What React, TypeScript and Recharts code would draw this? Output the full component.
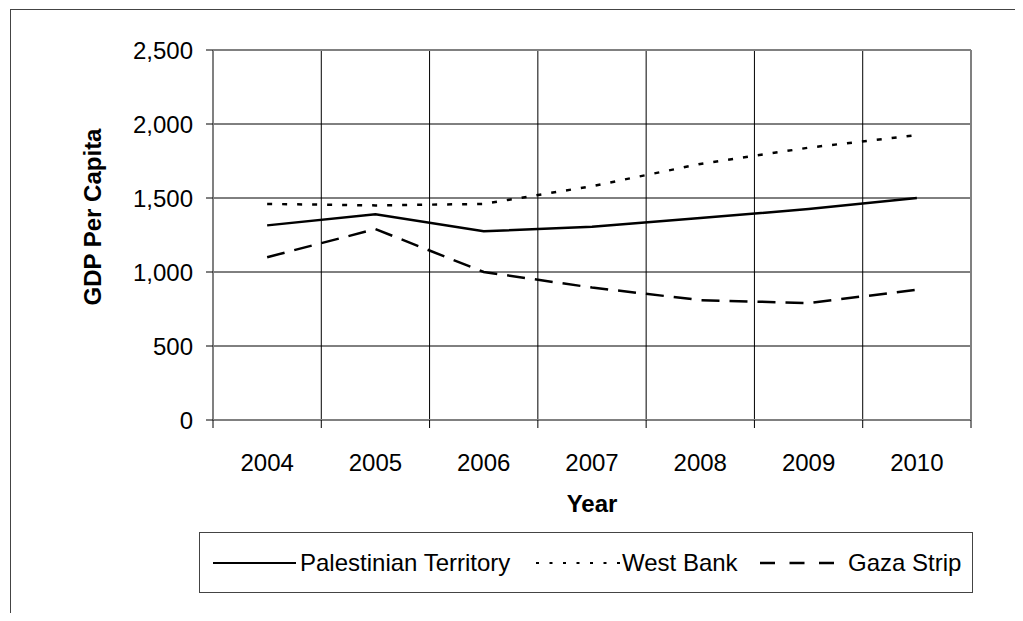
import React from "react";
import {
  LineChart,
  Line,
  XAxis,
  YAxis,
  CartesianGrid,
  Legend,
  Label,
  ReferenceLine,
} from "recharts";

const years = [2004, 2005, 2006, 2007, 2008, 2009, 2010];
const palestinian = [1315, 1390, 1275, 1305, 1365, 1425, 1500];
const westBank = [1460, 1450, 1460, 1580, 1730, 1840, 1925];
const gaza = [1100, 1290, 1000, 895, 810, 790, 880];
const yTicks = [0, 500, 1000, 1500, 2000, 2500];
const bandEdges = [2003.5, 2004.5, 2005.5, 2006.5, 2007.5, 2008.5, 2009.5, 2010.5];

const data = years.map((year, i) => ({
  year,
  palestinian: palestinian[i],
  westBank: westBank[i],
  gaza: gaza[i],
}));

const FONT = "'Liberation Sans', Arial, sans-serif";
const AXIS_GRAY = "#808080";
const X_DOMAIN: [number, number] = [bandEdges[0], bandEdges[bandEdges.length - 1]];

const legendItems = [
  { label: "Palestinian Territory", left: 13, len: 83, gap: 4, dash: undefined, sw: 2 },
  { label: "West Bank", left: 336, len: 84, gap: 2, dash: "3 10.5", sw: 2 },
  { label: "Gaza Strip", left: 560, len: 74, gap: 14, dash: "15 14.5", sw: 2.5 },
];

const LegendBox = () => (
  <div
    style={{
      position: "relative",
      boxSizing: "border-box",
      width: 774,
      height: 61,
      border: "1px solid #444",
      fontFamily: FONT,
      fontSize: 24,
      color: "#000",
    }}
  >
    {legendItems.map((it) => (
      <div
        key={it.label}
        style={{
          position: "absolute",
          left: it.left,
          top: 0,
          height: 59,
          display: "flex",
          alignItems: "center",
          whiteSpace: "nowrap",
        }}
      >
        <svg width={it.len} height={10} style={{ marginRight: it.gap }}>
          <line
            x1={0}
            y1={5}
            x2={it.len}
            y2={5}
            stroke="#000"
            strokeWidth={it.sw}
            strokeDasharray={it.dash}
          />
        </svg>
        <span>{it.label}</span>
      </div>
    ))}
  </div>
);

const YTitle = (props: any) => {
  const { viewBox } = props;
  const cx = viewBox.x + 93;
  const cy = viewBox.y + 167;
  return (
    <text
      x={cx}
      y={cy}
      transform={`rotate(-90 ${cx} ${cy})`}
      textAnchor="middle"
      fontFamily={FONT}
      fontSize={24}
      fontWeight="bold"
      fill="#000"
    >
      GDP Per Capita
    </text>
  );
};

const XTitle = (props: any) => {
  const { viewBox } = props;
  return (
    <text
      x={viewBox.x + viewBox.width / 2}
      y={viewBox.y + 91}
      textAnchor="middle"
      fontFamily={FONT}
      fontSize={24}
      fontWeight="bold"
      fill="#000"
    >
      Year
    </text>
  );
};

// vertical grid lines sit on the category edges, like the Excel original
const edgeLines = ({ xAxis, offset }: any) => {
  if (xAxis && typeof xAxis.scale === "function") {
    return bandEdges.map((v) => xAxis.scale(v));
  }
  const span = X_DOMAIN[1] - X_DOMAIN[0];
  return bandEdges.map((v) => offset.left + ((v - X_DOMAIN[0]) / span) * offset.width);
};

export default function App() {
  return (
    <div style={{ position: "relative", width: 1015, height: 605, overflow: "hidden" }}>
      <div
        style={{
          position: "absolute",
          left: 2,
          top: 1,
          width: 1100,
          height: 700,
          borderTop: "1px solid #444",
          borderLeft: "1px solid #444",
        }}
      />
      <LineChart
        width={1015}
        height={605}
        data={data}
        margin={{ top: 42, right: 52, left: 0, bottom: 20 }}
        style={{ fontFamily: FONT }}
      >
        {/* default axis (id 0): only the edge tick marks and the axis line */}
        <XAxis
          dataKey="year"
          type="number"
          domain={X_DOMAIN}
          ticks={bandEdges}
          interval={0}
          tick={{ fill: "none", fontSize: 1 }}
          tickFormatter={() => ""}
          tickSize={8}
          tickLine={{ stroke: "#000" }}
          axisLine={{ stroke: AXIS_GRAY, strokeWidth: 2 }}
          height={1}
          allowDataOverflow
        />
        <XAxis
          xAxisId="labels"
          dataKey="year"
          type="number"
          domain={X_DOMAIN}
          ticks={years}
          interval={0}
          tickLine={false}
          tickSize={0}
          tickMargin={33}
          tick={{ fill: "#000", fontSize: 24, fontFamily: FONT }}
          axisLine={false}
          height={111}
          allowDataOverflow
        >
          <Label content={<XTitle />} />
        </XAxis>
        <YAxis
          domain={[0, 2500]}
          ticks={yTicks}
          width={205}
          tickSize={7}
          tickMargin={13}
          tickFormatter={(v: number) => v.toLocaleString("en-US")}
          tick={{ fill: "#000", fontSize: 24, fontFamily: FONT }}
          tickLine={{ stroke: "#000" }}
          axisLine={{ stroke: AXIS_GRAY, strokeWidth: 2 }}
        >
          <Label content={<YTitle />} />
        </YAxis>
        <CartesianGrid
          stroke="#000"
          strokeWidth={1}
          verticalCoordinatesGenerator={edgeLines}
        />
        <ReferenceLine y={2500} stroke={AXIS_GRAY} strokeWidth={2} />
        <ReferenceLine x={2010.5} stroke={AXIS_GRAY} strokeWidth={2} />
        <Legend
          verticalAlign="bottom"
          align="left"
          content={<LegendBox />}
          wrapperStyle={{ left: 191, width: 774 }}
        />
        <Line
          type="linear"
          dataKey="palestinian"
          name="Palestinian Territory"
          stroke="#000"
          strokeWidth={2.5}
          dot={false}
          isAnimationActive={false}
        />
        <Line
          type="linear"
          dataKey="westBank"
          name="West Bank"
          stroke="#000"
          strokeWidth={2.5}
          strokeDasharray="5 10"
          dot={false}
          isAnimationActive={false}
        />
        <Line
          type="linear"
          dataKey="gaza"
          name="Gaza Strip"
          stroke="#000"
          strokeWidth={2.5}
          strokeDasharray="18 10"
          dot={false}
          isAnimationActive={false}
        />
      </LineChart>
    </div>
  );
}
